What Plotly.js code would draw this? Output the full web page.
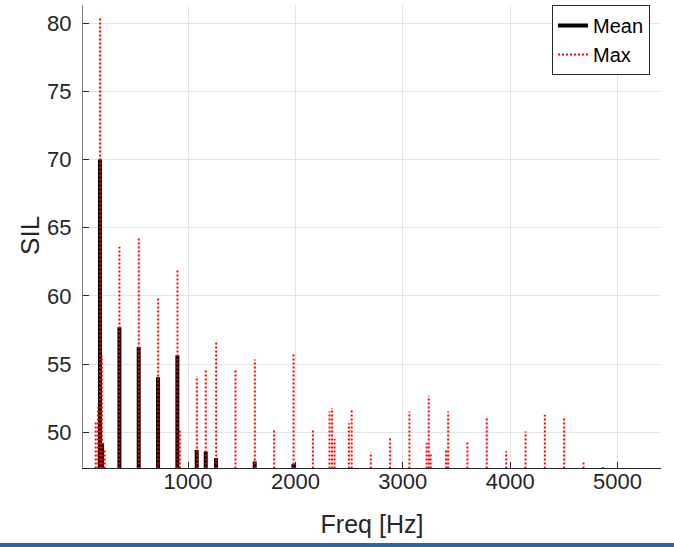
<!DOCTYPE html>
<html>
<head>
<meta charset="utf-8">
<script src="https://cdn.plot.ly/plotly-3.0.1.min.js"></script>
<style>
  html, body { margin: 0; padding: 0; background: #ffffff; }
  #chart { width: 674px; height: 547px; }
  #strip { position: absolute; left: 0; top: 543px; width: 674px; height: 4px; background: #2d669d; }
</style>
</head>
<body>
<div id="chart"></div>
<div id="strip"></div>
<script>
// Mean spectrum peaks (frequency in Hz, SIL)
const meanFreq = [180, 198, 361, 541, 721, 901, 1081, 1165, 1261, 1621, 1982];
const meanVal  = [70.0, 49.2, 57.7, 56.25, 54.03, 55.65, 48.7, 48.58, 48.1, 47.85, 47.65];

// Max spectrum peaks (frequency in Hz, SIL)
const maxFreq = [140, 161, 181, 198, 224, 361, 541, 722, 902, 925, 1082, 1165, 1262, 1442, 1622, 1802,
                 1983, 2163, 2318, 2342, 2365, 2498, 2524, 2702, 2882, 3062, 3222, 3242, 3260, 3403,
                 3423, 3602, 3782, 3963, 4143, 4323, 4503, 4683, 4863];
const maxVal  = [50.8, 51.8, 80.4, 55.6, 48.7, 63.6, 64.3, 59.8, 62.0, 50.1, 54.1, 54.55, 56.75, 54.6, 55.33, 50.27,
                 55.72, 50.27, 51.52, 51.77, 49.5, 50.66, 51.69, 48.53, 49.64, 51.52, 49.2, 52.68, 48.4, 48.8,
                 51.52, 49.3, 51.0, 48.6, 50.05, 51.28, 51.04, 47.85, 47.45];

const xTicks = [1000, 2000, 3000, 4000, 5000];
const yTicks = [50, 55, 60, 65, 70, 75, 80];

const FLOOR = 40; // spectrum floor, below visible range

function spikes(freq, vals) {
  const x = [], y = [];
  for (let i = 0; i < freq.length; i++) {
    x.push(freq[i], freq[i], null);
    y.push(FLOOR, vals[i], null);
  }
  return {x, y};
}

const m = spikes(meanFreq, meanVal);
const mx = spikes(maxFreq, maxVal);

const FONT = 'Liberation Sans, Arial, Helvetica, sans-serif';
const TXT = '#262626';

const traces = [
  {x: m.x, y: m.y, type: 'scatter', mode: 'lines', name: 'Mean',
   line: {color: '#000000', width: 4}, connectgaps: false, hoverinfo: 'skip'},
  {x: mx.x, y: mx.y, type: 'scatter', mode: 'lines', name: 'Max',
   line: {color: '#ff0000', width: 2, dash: '2px,2px'}, connectgaps: false, hoverinfo: 'skip'}
];

const layout = {
  width: 674, height: 547,
  margin: {l: 83, r: 13, t: 5, b: 79},
  paper_bgcolor: '#ffffff', plot_bgcolor: '#ffffff',
  showlegend: true,
  font: {family: FONT, color: TXT},
  xaxis: {
    range: [22, 5405], tickvals: xTicks, ticktext: xTicks.map(String),
    ticks: 'inside', ticklen: 6, tickcolor: TXT, tickwidth: 1,
    showline: true, linecolor: TXT, linewidth: 1, mirror: false,
    showgrid: true, gridcolor: '#e4e4e4', gridwidth: 1, zeroline: false,
    tickfont: {family: FONT, size: 22, color: TXT},
    ticklabelstandoff: -6,
    title: {text: 'Freq [Hz]', font: {family: FONT, size: 25, color: TXT}, standoff: 22}
  },
  yaxis: {
    range: [47.37, 81.34], tickvals: yTicks, ticktext: yTicks.map(String),
    ticks: 'inside', ticklen: 6, tickcolor: TXT, tickwidth: 1,
    showline: true, linecolor: '#808080', linewidth: 1, mirror: false,
    showgrid: true, gridcolor: '#e4e4e4', gridwidth: 1, zeroline: false,
    tickfont: {family: FONT, size: 22, color: TXT},
    ticklabelstandoff: 6
  },
  annotations: [{
    text: 'SIL', xref: 'paper', yref: 'paper', x: -0.092, y: 0.503,
    xanchor: 'center', yanchor: 'middle', textangle: -90, showarrow: false,
    font: {family: FONT, size: 26, color: TXT}
  }],
  legend: {
    x: 0.981, y: 1, xanchor: 'right', yanchor: 'top',
    bgcolor: '#ffffff', bordercolor: TXT, borderwidth: 1,
    font: {family: FONT, size: 20, color: '#000000'},
    tracegroupgap: 0, itemwidth: 30
  }
};

Plotly.newPlot('chart', traces, layout, {staticPlot: true, displayModeBar: false});
</script>
</body>
</html>
